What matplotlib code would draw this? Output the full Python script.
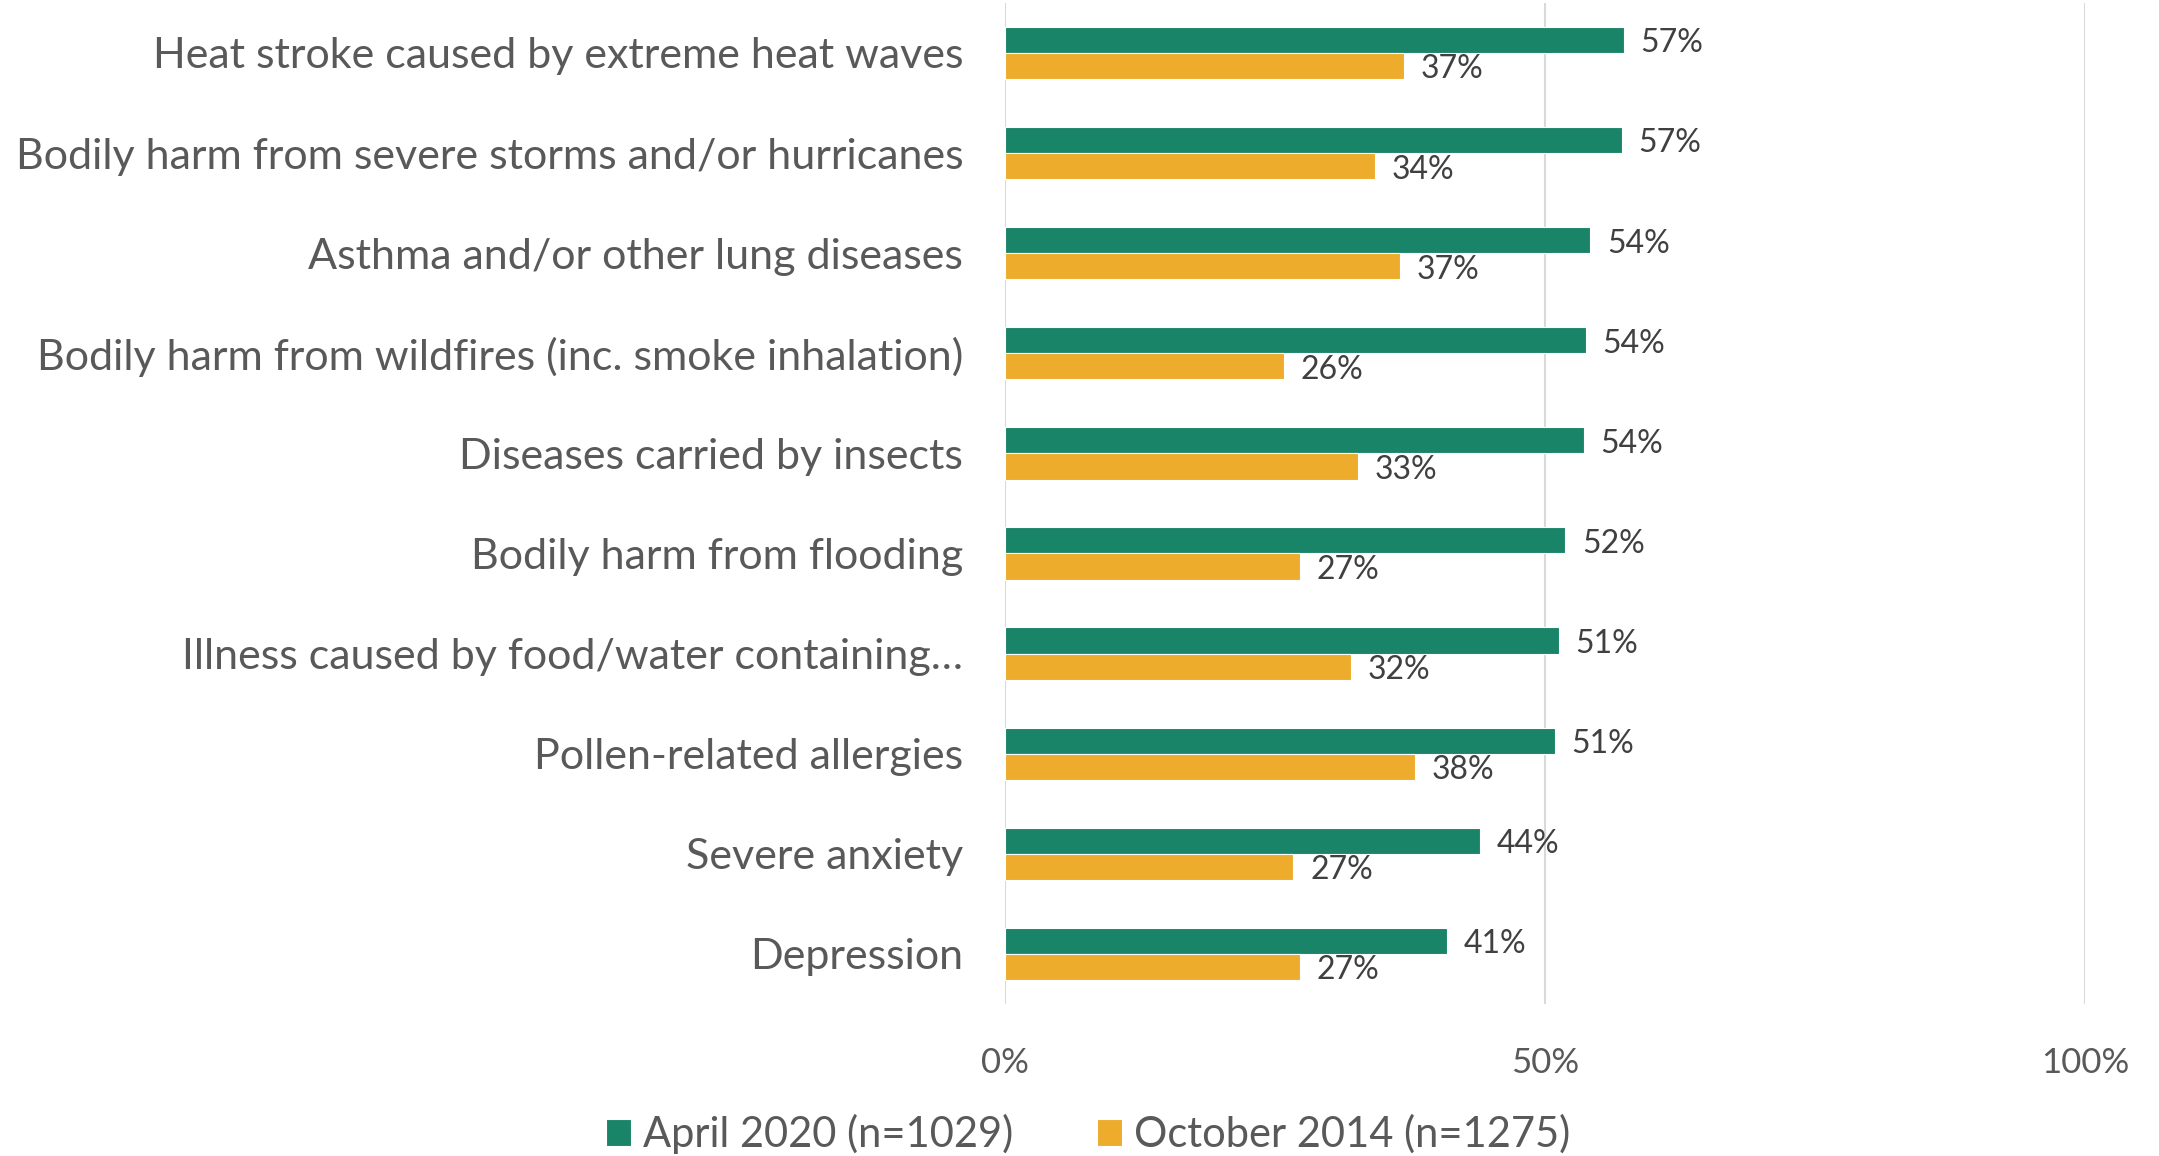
import matplotlib
matplotlib.use("Agg")
import matplotlib.pyplot as plt
import numpy as np

# Data
categories = [
    "Heat stroke caused by extreme heat waves",
    "Bodily harm from severe storms and/or hurricanes",
    "Asthma and/or other lung diseases",
    "Bodily harm from wildfires (inc. smoke inhalation)",
    "Diseases carried by insects",
    "Bodily harm from flooding",
    "Illness caused by food/water containing\u2026",
    "Pollen-related allergies",
    "Severe anxiety",
    "Depression",
]
april_2020 = [57.3, 57.1, 54.2, 53.8, 53.6, 51.9, 51.3, 50.9, 44.0, 40.9]
october_2014 = [36.9, 34.3, 36.6, 25.8, 32.7, 27.3, 32.0, 38.0, 26.7, 27.3]
series_labels = ["April 2020 (n=1029)", "October 2014 (n=1275)"]
x_ticks = [0, 50, 100]

GREEN = "#1a8469"
ORANGE = "#edac2b"
LABEL_GRAY = "#595959"
VALUE_GRAY = "#404040"

fig = plt.figure(figsize=(21.59, 11.56), dpi=100)
ax = fig.add_axes([0.4655, 0.1315, 0.5002, 0.866])

y = np.arange(len(categories))
h = 0.261

ax.barh(y - h / 2, april_2020, height=h, color=GREEN, edgecolor="white",
        linewidth=0.8, label=series_labels[0], zorder=3)
ax.barh(y + h / 2, october_2014, height=h, color=ORANGE, edgecolor="white",
        linewidth=0.8, label=series_labels[1], zorder=3)

# data labels, nudged a little below the bar centre like the original
for yi, v in zip(y, april_2020):
    ax.annotate(f"{v:.0f}%", (v, yi - h / 2), xytext=(12, -2.5),
                textcoords="offset points", va="center", ha="left",
                fontsize=23, color=VALUE_GRAY, family="Lato")
for yi, v in zip(y, october_2014):
    ax.annotate(f"{v:.0f}%", (v, yi + h / 2), xytext=(12, -2.5),
                textcoords="offset points", va="center", ha="left",
                fontsize=23, color=VALUE_GRAY, family="Lato")

ax.set_xlim(0, 100)
ax.set_ylim(len(categories) - 0.5, -0.5)
ax.set_xticks(x_ticks)
ax.set_xticklabels([f"{t}%" for t in x_ticks], fontsize=25, color=LABEL_GRAY,
                   family="Lato")
ax.set_yticks(y)
ax.set_yticklabels(categories, fontsize=31, color=LABEL_GRAY, family="Lato")
ax.tick_params(axis="x", length=0, pad=31)
ax.tick_params(axis="y", length=0, pad=30)

ax.grid(axis="x", color="#d9d9d9", linewidth=1.5, zorder=0)
for s in ax.spines.values():
    s.set_visible(False)

handles, labels = ax.get_legend_handles_labels()
fig.legend(handles, labels, loc="center", bbox_to_anchor=(0.504, 0.019),
           ncol=2, frameon=False, handlelength=0.6, handleheight=0.6,
           handletextpad=0.3, columnspacing=2.0,
           prop={"family": "Lato", "size": 30},
           labelcolor=LABEL_GRAY)

fig.savefig("out.png", dpi=100)
